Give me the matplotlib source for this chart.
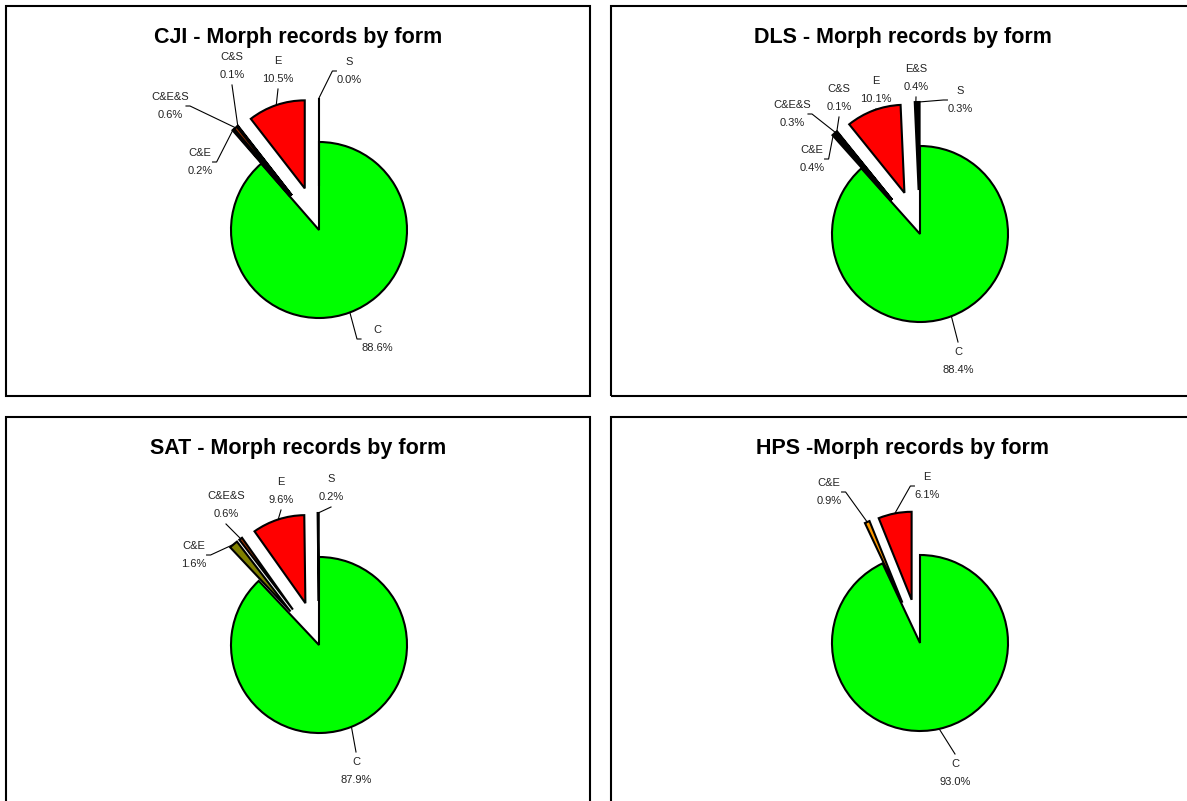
import numpy as np
import matplotlib
matplotlib.use("Agg")
import matplotlib.pyplot as plt
from matplotlib.patches import Rectangle

plt.rcParams["font.family"] = ["Liberation Sans", "DejaVu Sans"]

W, H = 1187, 801

# --- data -------------------------------------------------------------
cji_labels = ["C", "C&E", "C&E&S", "C&S", "E", "S"]
cji_values = [88.6, 0.2, 0.6, 0.1, 10.5, 0.0]

dls_labels = ["C", "C&E", "C&E&S", "C&S", "E", "E&S", "S"]
dls_values = [88.4, 0.4, 0.3, 0.1, 10.1, 0.4, 0.3]

sat_labels = ["C", "C&E", "C&E&S", "E", "S"]
sat_values = [87.9, 1.6, 0.6, 9.6, 0.2]

hps_labels = ["C", "C&E", "E"]
hps_values = [93.0, 0.9, 6.1]

form_colors = {
    "C": "#00FF00",
    "C&E": "#808000",
    "C&E&S": "#993300",
    "C&S": "#993366",
    "E": "#FF0000",
    "E&S": "#000080",
    "S": "#000000",
}

# --- layout (pixels) --------------------------------------------------
R = 88.0  # pie radius in px
panels = [
    dict(title="CJI - Morph records by form", labels=cji_labels, values=cji_values,
         box=(6, 6, 590, 396), center=(319, 230),
         text_pos=[(377, 339), (200, 162), (170, 106), (232, 66), (278, 70), (349, 71)]),
    dict(title="DLS - Morph records by form", labels=dls_labels, values=dls_values,
         box=(611, 6, 1195, 396), center=(920, 234),
         text_pos=[(958, 361), (812, 159), (792, 114), (839, 98), (876, 90), (916, 78), (960, 100)]),
    dict(title="SAT - Morph records by form", labels=sat_labels, values=sat_values,
         box=(6, 417, 590, 807), center=(319, 645),
         text_pos=[(356, 771), (194, 555), (226, 505), (281, 491), (331, 488)]),
    dict(title="HPS -Morph records by form", labels=hps_labels, values=hps_values,
         box=(611, 417, 1195, 807), center=(920, 643),
         colors={"C&E": "#FF9900"},
         text_pos=[(955, 773), (829, 492), (927, 486)]),
]

fig = plt.figure(figsize=(W / 100, H / 100), dpi=100)

for p in panels:
    x0, y0, x1, y1 = p["box"]
    cx, cy = p["center"]
    ax = fig.add_axes([x0 / W, 1 - y1 / H, (x1 - x0) / W, (y1 - y0) / H])

    colors = [p.get("colors", {}).get(l, form_colors[l]) for l in p["labels"]]
    explode = [0.0] + [0.5] * (len(p["values"]) - 1)
    ax.pie(p["values"], colors=colors, startangle=90, counterclock=False,
           explode=explode, radius=1,
           wedgeprops=dict(edgecolor="black", linewidth=1.5))
    ax.set_aspect("auto")
    ax.set_xlim((x0 - cx) / R, (x1 - cx) / R)
    ax.set_ylim((cy - y1) / R, (cy - y0) / R)
    ax.axis("off")

    # frame around each chart
    ax.add_patch(Rectangle((0, 0), 1, 1, transform=ax.transAxes, fill=False,
                           edgecolor="black", linewidth=1.5, clip_on=False))

    ax.text(((x0 + x1) / 2 - cx) / R, (cy - (y0 + 37)) / R, p["title"],
            ha="center", va="baseline", fontsize=15.5, fontweight="bold")

    # labels with leader lines
    total = sum(p["values"])
    start = 0.0
    for lab, val, ex, (tx, ty) in zip(p["labels"], p["values"], explode, p["text_pos"]):
        mid = 90 - 360 * (start + val / 2) / total
        start += val
        a = np.deg2rad(mid)
        px, py = (1 + ex) * np.cos(a), (1 + ex) * np.sin(a)
        lx, ly = (tx - cx) / R, (cy - ty) / R
        txt = f"{lab}\n{val:.1f}%"
        ax.text(lx, ly, txt, ha="center", va="center", fontsize=8,
                linespacing=2.05, color="#222222")
        hw = (max(len(lab), len(f"{val:.1f}%")) * 3.4 + 3) / R
        hh = 19 / R
        if px > lx + hw:
            # label on the left: leader meets its right side
            pts = [(px, py), (lx + hw, ly), (lx + hw - 4 / R, ly)]
        elif px < lx - hw:
            pts = [(px, py), (lx - hw, ly), (lx - hw + 4 / R, ly)]
        elif py < ly:
            pts = [(px, py), (lx, ly - hh)]
        else:
            pts = [(px, py), (lx, ly + hh)]
        xs, ys = zip(*pts)
        ax.plot(xs, ys, color="black", linewidth=0.8)

fig.savefig("out.png", dpi=100)
